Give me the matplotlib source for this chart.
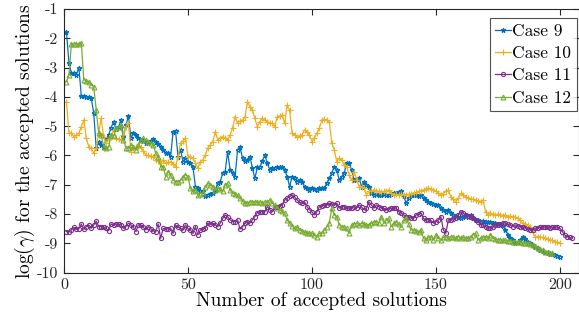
import numpy as np
import matplotlib
matplotlib.use('Agg')
from matplotlib import pyplot as plt

plt.rcParams['font.family'] = ['cmr10', 'DejaVu Serif']
plt.rcParams['mathtext.fontset'] = 'cm'
plt.rcParams['axes.unicode_minus'] = False
plt.rcParams['axes.formatter.use_mathtext'] = False

# log(gamma) of accepted solutions (index starts at 1)
case9 = [
    -1.80, -2.83, -3.20, -3.18, -3.25, -3.00, -3.98, -3.98, -4.00, -4.02,
    -4.05, -4.55, -5.75, -5.55, -5.65, -5.70, -5.45, -5.30, -5.05, -4.85,
    -5.10, -5.02, -4.79, -5.36, -4.95, -4.67, -5.41, -5.24, -5.30, -5.40,
    -5.47, -5.50, -5.58, -5.55, -5.50, -5.45, -5.53, -5.62, -5.70, -5.80,
    -5.93, -5.90, -6.04, -5.19, -5.17, -6.04, -5.80, -6.21, -6.10, -6.21,
    -6.25, -6.38, -7.06, -7.12, -7.20, -7.23, -7.40, -7.35, -7.30, -7.29,
    -7.18, -6.95, -6.89, -6.61, -6.55, -5.87, -6.49, -6.60, -6.72, -5.81,
    -5.70, -6.10, -6.20, -6.15, -6.04, -6.44, -6.78, -6.40, -6.40, -6.20,
    -5.98, -6.27, -6.49, -6.44, -6.42, -6.40, -6.40, -6.38, -6.49, -6.72,
    -7.06, -6.72, -6.78, -6.89, -6.85, -6.90, -7.06, -7.12, -7.18, -7.12,
    -7.15, -7.18, -7.12, -7.10, -7.12, -6.95, -6.78, -6.60, -6.38, -6.49,
    -6.84, -6.72, -6.60, -6.27, -6.27, -6.49, -6.84, -6.80, -6.78, -7.06,
    -6.89, -7.00, -7.06, -7.29, -7.35, -7.30, -7.35, -7.35, -7.30, -7.35,
    -7.35, -7.30, -7.29, -7.28, -7.25, -7.23, -7.40, -7.63, -7.45, -7.35,
    -7.35, -7.35, -7.40, -7.35, -7.45, -7.52, -7.60, -7.63, -7.65, -7.70,
    -7.70, -7.80, -7.86, -7.92, -7.86, -7.95, -8.03, -8.05, -8.09, -8.14,
    -8.10, -8.05, -8.09, -8.03, -8.15, -8.20, -8.22, -8.26, -8.25, -8.28,
    -8.26, -8.28, -8.30, -8.31, -8.33, -8.37, -8.40, -8.54, -8.70, -8.83,
    -8.90, -9.00, -8.95, -8.88, -8.77, -8.85, -8.94, -9.00, -9.05, -9.11,
    -9.15, -9.22, -9.25, -9.30, -9.34, -9.36, -9.38, -9.40, -9.42, -9.45,
]
case10 = [
    -4.16, -5.24, -5.24, -5.36, -5.30, -5.24, -5.02, -4.79, -5.41, -5.70,
    -5.75, -5.93, -5.75, -5.24, -4.73, -5.36, -5.58, -5.45, -5.36, -5.13,
    -5.41, -5.45, -5.47, -5.30, -5.02, -4.90, -5.87, -5.75, -5.72, -5.70,
    -5.70, -5.85, -5.98, -6.00, -6.02, -6.04, -6.15, -6.20, -6.27, -6.15,
    -6.27, -6.24, -6.21, -6.30, -6.38, -6.04, -5.58, -5.50, -5.41, -6.04,
    -6.04, -6.10, -6.25, -6.44, -6.21, -6.15, -5.98, -5.75, -5.65, -5.53,
    -5.19, -5.47, -5.40, -5.36, -5.41, -5.47, -5.30, -5.07, -4.68, -4.90,
    -4.82, -4.79, -4.68, -4.16, -4.33, -4.45, -4.73, -5.02, -4.85, -4.73,
    -4.79, -4.85, -4.88, -4.90, -5.02, -4.68, -4.65, -4.62, -4.90, -4.28,
    -4.45, -5.24, -5.30, -5.36, -5.33, -5.30, -5.13, -5.19, -5.30, -5.53,
    -5.40, -5.24, -5.07, -4.79, -4.77, -4.80, -4.85, -5.58, -5.81, -6.21,
    -6.10, -6.15, -6.33, -6.38, -6.66, -6.84, -6.55, -6.84, -7.06, -7.06,
    -7.12, -7.35, -7.23, -7.20, -7.18, -7.20, -7.23, -7.25, -7.23, -7.20,
    -7.18, -7.28, -7.35, -7.33, -7.35, -7.32, -7.35, -7.35, -7.33, -7.30,
    -7.29, -7.26, -7.23, -7.20, -7.18, -7.15, -7.12, -7.15, -7.18, -7.23,
    -7.29, -7.35, -7.30, -7.23, -7.18, -7.41, -7.50, -7.58, -7.46, -7.29,
    -7.35, -7.41, -7.46, -7.48, -7.50, -7.52, -7.55, -7.58, -7.52, -7.92,
    -8.03, -7.97, -8.00, -8.03, -8.00, -8.03, -8.05, -8.03, -8.09, -8.07,
    -8.09, -8.09, -8.15, -8.20, -8.31, -8.35, -8.37, -8.45, -8.60, -8.77,
    -8.77, -8.78, -8.80, -8.83, -8.85, -8.88, -8.90, -8.94, -8.97, -9.00,
]
case11 = [
    -8.60, -8.60, -8.54, -8.45, -8.52, -8.50, -8.34, -8.52, -8.43, -8.37,
    -8.49, -8.37, -8.24, -8.43, -8.43, -8.45, -8.49, -8.57, -8.34, -8.37,
    -8.34, -8.34, -8.37, -8.49, -8.43, -8.31, -8.37, -8.45, -8.60, -8.37,
    -8.37, -8.45, -8.54, -8.43, -8.50, -8.57, -8.60, -8.34, -8.83, -8.49,
    -8.52, -8.50, -8.49, -8.66, -8.37, -8.45, -8.49, -8.54, -8.37, -8.49,
    -8.55, -8.66, -8.43, -8.71, -8.54, -8.50, -8.49, -8.31, -8.35, -8.31,
    -8.37, -8.43, -8.31, -8.15, -8.03, -8.09, -8.20, -8.26, -8.26, -8.20,
    -8.52, -8.43, -8.30, -8.26, -8.31, -8.20, -8.09, -7.95, -7.92, -7.92,
    -7.92, -7.75, -7.85, -7.92, -7.75, -7.75, -7.72, -7.69, -7.52, -7.46,
    -7.40, -7.35, -7.41, -7.52, -7.60, -7.63, -7.58, -7.75, -7.85, -7.92,
    -8.03, -7.92, -7.75, -7.72, -7.69, -7.69, -7.63, -7.66, -7.69, -7.63,
    -7.80, -7.75, -7.75, -7.80, -7.80, -7.78, -7.75, -7.80, -7.69, -7.75,
    -7.86, -7.80, -7.58, -7.70, -7.80, -7.69, -7.75, -7.78, -7.80, -7.86,
    -7.82, -7.80, -7.80, -7.80, -7.92, -7.97, -8.03, -8.09, -8.09, -8.12,
    -8.15, -8.03, -8.00, -7.97, -8.15, -8.20, -8.20, -8.22, -8.31, -8.26,
    -8.20, -8.09, -8.54, -8.66, -8.20, -8.20, -8.17, -8.14, -8.03, -7.92,
    -7.97, -8.03, -8.05, -8.09, -8.14, -8.20, -8.26, -8.37, -8.37, -8.43,
    -8.48, -8.48, -8.45, -8.37, -8.37, -8.35, -8.31, -8.31, -8.35, -8.37,
    -8.43, -8.37, -8.40, -8.43, -8.43, -8.48, -8.50, -8.54, -8.54, -8.48,
    -8.48, -8.45, -8.43, -8.45, -8.43, -8.48, -8.45, -8.43, -8.45, -8.48,
    -8.60, -8.72, -8.77, -8.80, -8.83,
]
case12 = [
    -3.48, -3.25, -2.19, -2.19, -2.20, -2.19, -2.17, -3.42, -3.45, -3.48,
    -3.59, -3.65, -4.45, -5.24, -5.30, -5.70, -5.75, -5.70, -5.30, -5.35,
    -5.07, -5.02, -4.96, -5.47, -5.75, -5.75, -5.64, -5.70, -5.81, -5.64,
    -5.47, -5.41, -5.47, -5.55, -5.58, -5.64, -5.93, -6.04, -6.38, -6.38,
    -6.72, -6.55, -6.66, -6.84, -6.89, -6.89, -6.84, -6.72, -6.66, -6.72,
    -7.12, -7.23, -7.18, -7.35, -7.30, -7.29, -7.06, -6.95, -7.00, -7.06,
    -7.18, -7.12, -7.15, -7.23, -7.01, -6.95, -7.18, -7.29, -7.30, -7.35,
    -7.46, -7.55, -7.63, -7.63, -7.58, -7.60, -7.58, -7.60, -7.58, -7.62,
    -7.58, -7.60, -7.52, -7.63, -7.70, -7.80, -7.86, -7.90, -7.97, -8.20,
    -8.31, -8.40, -8.49, -8.43, -8.54, -8.58, -8.60, -8.66, -8.66, -8.66,
    -8.71, -8.77, -8.66, -8.66, -8.55, -8.43, -8.31, -7.80, -8.03, -8.09,
    -8.37, -8.43, -8.43, -8.49, -8.66, -8.37, -8.34, -8.31, -8.37, -8.31,
    -8.35, -8.37, -8.37, -8.31, -8.28, -8.26, -8.31, -8.09, -8.31, -8.20,
    -8.15, -8.43, -8.31, -8.26, -8.35, -8.43, -8.20, -8.15, -8.35, -8.54,
    -8.54, -8.58, -8.60, -8.54, -8.83, -8.88, -8.80, -8.77, -8.88, -8.71,
    -8.83, -8.88, -8.80, -8.77, -8.83, -8.77, -8.80, -8.83, -8.77, -8.83,
    -8.80, -8.83, -8.83, -8.77, -8.70, -8.66, -8.88, -8.83, -8.80, -8.77,
    -8.83, -8.71, -8.83, -8.86, -8.88, -8.88, -8.90, -8.90, -8.92, -8.92,
    -8.94, -8.94, -8.94, -8.96, -9.00, -9.00, -9.00, -9.03, -9.05, -9.10,
    -9.17, -9.20, -9.22, -9.28, -9.31, -9.34, -9.34,
]

labels = ['Case 9', 'Case 10', 'Case 11', 'Case 12']
colors = ['#0072BD', '#EDB120', '#7E2F8E', '#77AC30']
markers = ['*', '+', 'o', '^']
msizes = [3.5, 5, 3, 3.5]

fig = plt.figure(figsize=(5.79, 3.20), dpi=100)
ax = fig.add_axes([0.1105, 0.148, 0.8895, 0.824])

for ys, lab, c, m, ms in zip([case9, case10, case11, case12], labels, colors, markers, msizes):
    xs = np.arange(1, len(ys) + 1)
    ax.plot(xs, ys, color=c, marker=m, markersize=ms, markerfacecolor='none',
            markeredgewidth=0.8, linewidth=0.9, label=lab)

ax.set_xlim(0, 207.7)
ax.set_ylim(-10, -1)
ax.set_xticks([0, 50, 100, 150, 200])
ax.set_yticks(np.arange(-10, 0, 1))
ax.tick_params(direction='in', top=True, right=True, length=4, width=0.8,
               labelsize=11.5, colors='#262626', pad=4)
for s in ax.spines.values():
    s.set_color('#262626')
    s.set_linewidth(0.8)

ax.set_xlabel('Number of accepted solutions', fontsize=14, labelpad=0)
ax.set_ylabel(r'log($\gamma$) for the accepted solutions', fontsize=14, labelpad=0)

leg = ax.legend(loc='upper right', bbox_to_anchor=(0.996, 0.943), bbox_transform=fig.transFigure,
                fontsize=12.5, frameon=True, fancybox=False, edgecolor='#262626',
                handlelength=0.9, handletextpad=0.1, borderpad=0.3, labelspacing=0.4,
                borderaxespad=0)
leg.get_frame().set_linewidth(0.8)

fig.savefig('out.png', dpi=100)
